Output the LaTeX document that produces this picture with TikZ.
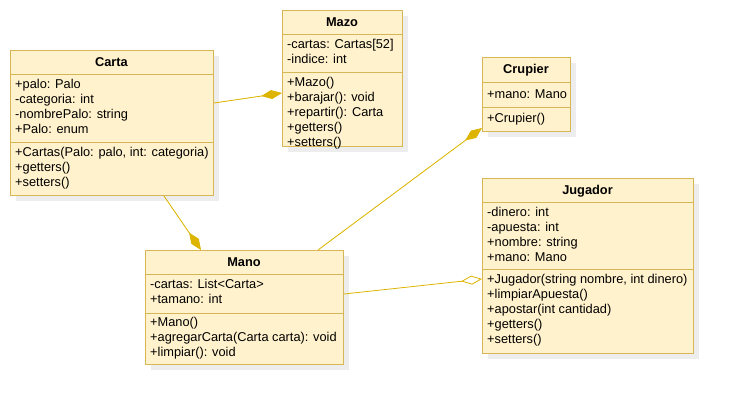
\documentclass[tikz,border=0pt]{standalone}
\usepackage{fontspec}
\setmainfont{Liberation Sans}
\usetikzlibrary{arrows.meta,shadows}
\definecolor{umlfill}{HTML}{FFF2CC}
\definecolor{umlline}{HTML}{D6B656}
\definecolor{umllink}{HTML}{DDB400}
\begin{document}
\begin{tikzpicture}[x=1pt,y=-1pt,
				classbox/.style={rectangle, draw=umlline, fill=umlfill, line width=1pt, anchor=north west, inner sep=0pt,
					drop shadow={shadow xshift=5pt, shadow yshift=-5pt, fill=black!7, opacity=1}},
				classname/.style={anchor=base, inner sep=0pt, font=\fontsize{12.8}{15}\selectfont\bfseries},
				members/.style={anchor=north west, align=left, inner sep=0pt, font=\fontsize{12.8}{15}\selectfont, execute at begin node=\strut},
				partline/.style={draw=umlline, line width=1pt},
				compo/.style={-{Diamond[length=21pt,width=9pt]}, draw=umllink, fill=umllink, line width=0.8pt},
				aggreg/.style={-{Diamond[open,length=21pt,width=9pt,fill=white]}, draw=umllink, line width=0.8pt}]
	\useasboundingbox (0,0) rectangle (734,405);
	% classes
	\node[classbox, minimum width=203pt, minimum height=145pt] (carta) at (10,50) {};
	\node[classbox, minimum width=120pt, minimum height=136pt] (mazo) at (282,10) {};
	\node[classbox, minimum width=88pt, minimum height=74pt] (crupier) at (482,57) {};
	\node[classbox, minimum width=211pt, minimum height=175pt] (jugador) at (482,178) {};
	\node[classbox, minimum width=198pt, minimum height=114pt] (mano) at (145,250) {};
	\draw[partline] (10,74) -- (213,74);
	\draw[partline] (10,142) -- (213,142);
	\draw[partline] (282,34) -- (402,34);
	\draw[partline] (282,72) -- (402,72);
	\draw[partline] (482,82) -- (570,82);
	\draw[partline] (482,107) -- (570,107);
	\draw[partline] (482,202) -- (693,202);
	\draw[partline] (482,269) -- (693,269);
	\draw[partline] (145,274) -- (343,274);
	\draw[partline] (145,313) -- (343,313);
	% texts
	\node[classname] (cartaN) at (111.5,66.5) {Carta};
	\node[members] (cartaA) at (15,79.5) {+palo: Palo\\-categoria: int\\-nombrePalo: string\\+Palo: enum};
	\node[members] (cartaM) at (15,147.5) {+Cartas(Palo: palo, int: categoria)\\+getters()\\+setters()};
	\node[classname] (mazoN) at (342,26.5) {Mazo};
	\node[members] (mazoA) at (287,39.5) {-cartas: Cartas[52]\\-indice: int};
	\node[members] (mazoM) at (287,77.5) {+Mazo()\\+barajar(): void\\+repartir(): Carta\\+getters()\\+setters()};
	\node[classname] (crupierN) at (526,73.5) {Crupier};
	\node[members] (crupierA) at (487,87.5) {+mano: Mano};
	\node[members] (crupierM) at (487,112) {+Crupier()};
	\node[classname] (jugadorN) at (587.5,194.5) {Jugador};
	\node[members] (jugadorA) at (487,207.5) {-dinero: int\\-apuesta: int\\+nombre: string\\+mano: Mano};
	\node[members] (jugadorM) at (487,274.5) {+Jugador(string nombre, int dinero)\\+limpiarApuesta()\\+apostar(int cantidad)\\+getters()\\+setters()};
	\node[classname] (manoN) at (244,266.5) {Mano};
	\node[members] (manoA) at (150,279.5) {-cartas: List<Carta>\\+tamano: int};
	\node[members] (manoM) at (150,317) {+Mano()\\+agregarCarta(Carta carta): void\\+limpiar(): void};
	% relations
	\draw[compo] ([yshift=-53pt]carta.north east) -- ([yshift=-83pt]mazo.north west);
	\draw[compo] ([xshift=154pt]carta.south west) -- ([xshift=56pt]mano.north west);
	\draw[compo] ([xshift=173pt]mano.north west) -- ([yshift=4pt]crupier.south west);
	\draw[aggreg] ([yshift=-44pt]mano.north east) -- ([yshift=-101pt]jugador.north west);
\end{tikzpicture}
\end{document}
